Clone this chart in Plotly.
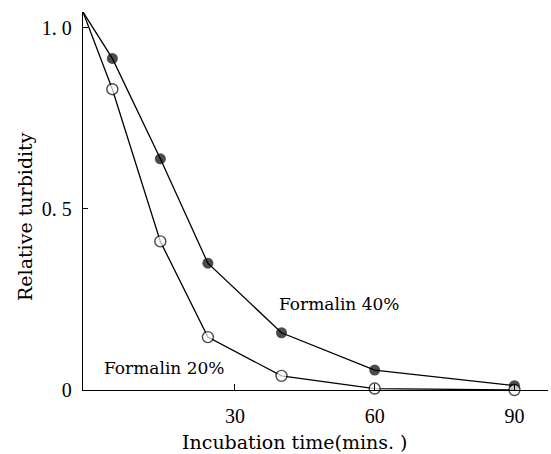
import plotly.graph_objects as go

# Incubation time (minutes); the first entry is the common starting point on the y axis
time_min = [-2.6, 3.7, 14, 24.2, 40, 60, 90]

# Relative turbidity for the two formalin concentrations
formalin_40 = [1.043, 0.915, 0.638, 0.350, 0.158, 0.055, 0.012]
formalin_20 = [1.043, 0.830, 0.410, 0.146, 0.039, 0.004, 0.0]

x_tickvals = [30, 60, 90]
x_ticktext = ["30", "60", "90"]
y_tickvals = [0, 0.5, 1.0]
y_ticktext = ["0", "0.\u00a05", "1.\u00a00"]

INK = "#000000"
SERIF = "DejaVu Serif"
DIGITS = "Liberation Serif"

# No marker on the shared starting point
marker_sizes = [0] + [11] * (len(time_min) - 1)

fig = go.Figure()

# Formalin 40%: filled circles
fig.add_trace(go.Scatter(
    x=time_min, y=formalin_40, mode="lines+markers",
    line=dict(color=INK, width=1.3),
    marker=dict(symbol="circle", size=marker_sizes, color=INK,
                line=dict(color=INK, width=0)),
    showlegend=False, cliponaxis=False,
))
# Formalin 20%: open circles
fig.add_trace(go.Scatter(
    x=time_min, y=formalin_20, mode="lines+markers",
    line=dict(color=INK, width=1.3),
    marker=dict(symbol="circle", size=marker_sizes, color="white",
                line=dict(color=INK, width=1.4)),
    showlegend=False, cliponaxis=False,
))

fig.update_layout(
    width=551, height=454, autosize=False,
    margin=dict(l=83, r=3, t=12, b=64),
    paper_bgcolor="white", plot_bgcolor="white",
    font=dict(family=SERIF, color=INK),
)

fig.update_xaxes(
    range=[-2.6, 97.2], showgrid=False, zeroline=False,
    showline=True, linecolor=INK, linewidth=1.3,
    ticks="inside", ticklen=6, tickcolor=INK, tickwidth=1.2,
    tickvals=x_tickvals, ticktext=x_ticktext,
    tickfont=dict(family=DIGITS, size=20, color=INK),
    ticklabelstandoff=8,
)
fig.update_yaxes(
    range=[0, 1.043], showgrid=False, zeroline=False,
    showline=True, linecolor=INK, linewidth=1.3,
    ticks="inside", ticklen=5, tickcolor=INK, tickwidth=1.2,
    tickvals=y_tickvals, ticktext=y_ticktext,
    tickfont=dict(family=DIGITS, size=20, color=INK),
    ticklabelstandoff=6,
)

# Axis titles
fig.add_annotation(
    text="Incubation time(mins. )", xref="paper", yref="paper",
    x=(295 - 83) / 465, y=-(442 - 390) / 378,
    showarrow=False, font=dict(family=SERIF, size=19, color=INK),
    xanchor="center", yanchor="middle",
)
fig.add_annotation(
    text="Relative turbidity", xref="paper", yref="paper",
    x=-(83 - 25) / 465, y=(390 - 217) / 378, textangle=-90,
    showarrow=False, font=dict(family=SERIF, size=19, color=INK),
    xanchor="center", yanchor="middle",
)

# Series labels
fig.add_annotation(
    text="Formalin 40%", x=52.4, y=0.238, xref="x", yref="y",
    showarrow=False, font=dict(family=SERIF, size=17, color=INK),
    xanchor="center", yanchor="middle",
)
fig.add_annotation(
    text="Formalin 20%", x=14.9, y=0.062, xref="x", yref="y",
    showarrow=False, font=dict(family=SERIF, size=17, color=INK),
    xanchor="center", yanchor="middle",
)

fig.write_html("out.html")
